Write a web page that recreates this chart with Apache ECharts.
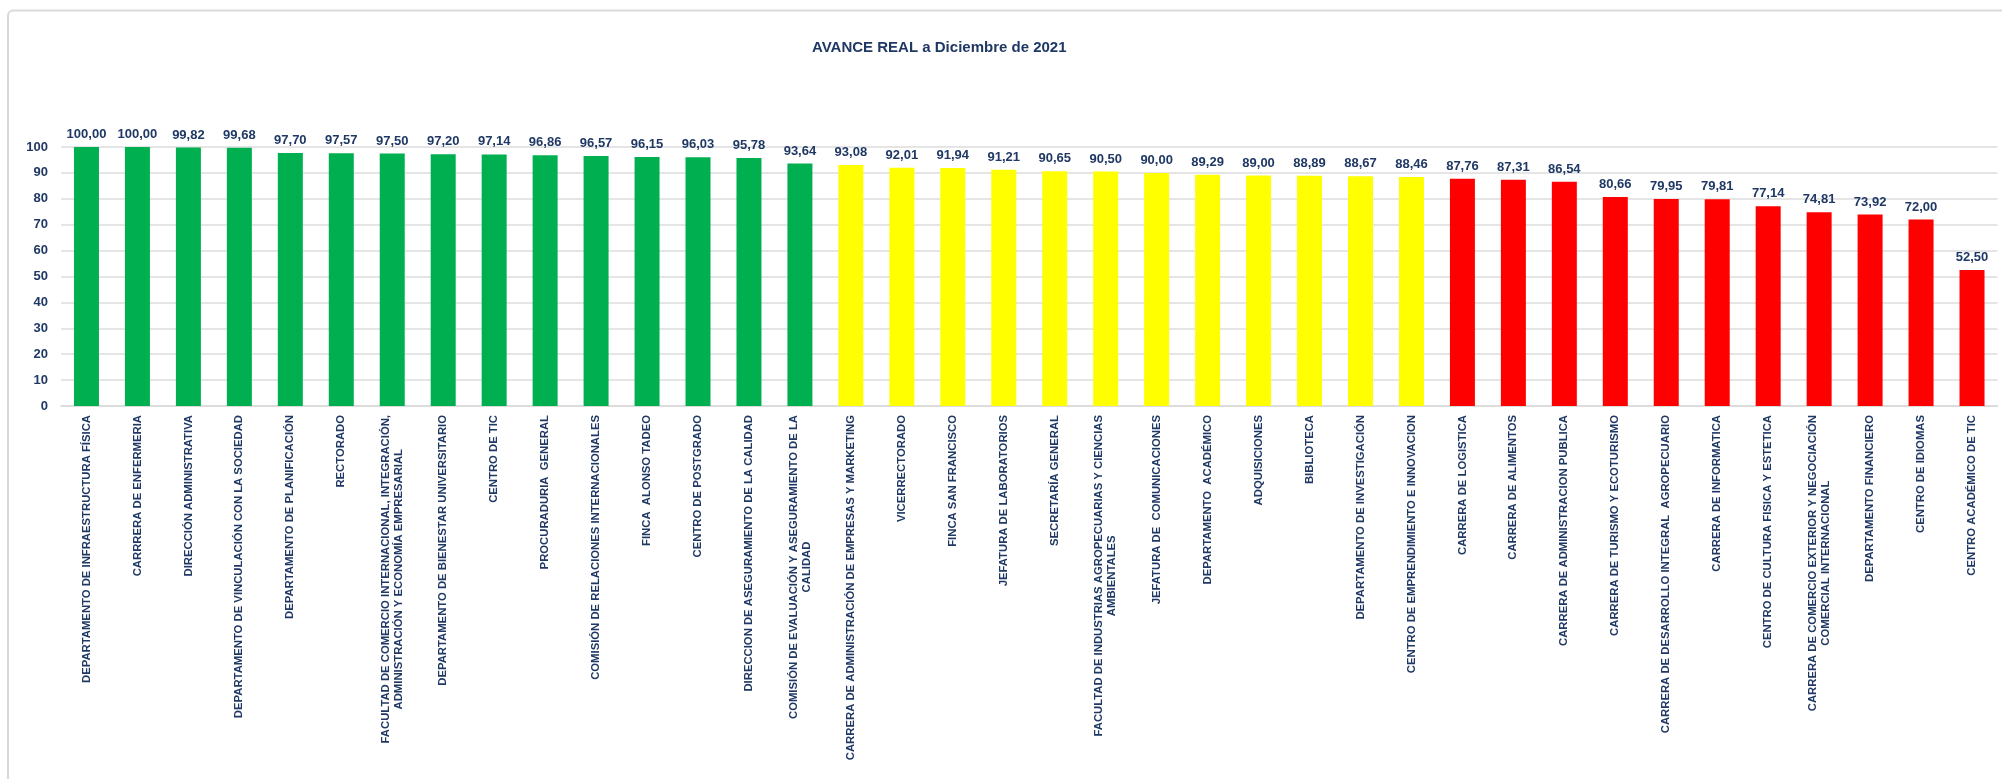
<!DOCTYPE html>
<html>
<head>
<meta charset="utf-8">
<title>AVANCE REAL a Diciembre de 2021</title>
<script src="https://cdn.jsdelivr.net/npm/echarts@6/dist/echarts.min.js"></script>
<style>
  html, body { margin: 0; padding: 0; background: #ffffff; }
  #chart { width: 2002px; height: 779px; }
</style>
</head>
<body>
<div id="chart"></div>
<script>
// Unidades evaluadas (orden descendente de avance)
const unidades = [
  'DEPARTAMENTO DE INFRAESTRUCTURA FÍSICA',
  'CARRRERA DE ENFERMERIA',
  'DIRECCIÓN ADMINISTRATIVA',
  'DEPARTAMENTO DE VINCULACIÓN CON LA SOCIEDAD',
  'DEPARTAMENTO DE PLANIFICACIÓN',
  'RECTORADO',
  'FACULTAD DE COMERCIO INTERNACIONAL, INTEGRACIÓN,\nADMINISTRACIÓN Y ECONOMÍA EMPRESARIAL',
  'DEPARTAMENTO DE BIENESTAR UNIVERSITARIO',
  'CENTRO DE TIC',
  'PROCURADURIA  GENERAL',
  'COMISIÓN DE RELACIONES INTERNACIONALES',
  'FINCA  ALONSO TADEO',
  'CENTRO DE POSTGRADO',
  'DIRECCION DE ASEGURAMIENTO DE LA CALIDAD',
  'COMISIÓN DE EVALUACIÓN Y ASEGURAMIENTO DE LA\nCALIDAD',
  'CARRERA DE ADMINISTRACIÓN DE EMPRESAS Y MARKETING',
  'VICERRECTORADO',
  'FINCA SAN FRANCISCO',
  'JEFATURA DE LABORATORIOS',
  'SECRETARÍA GENERAL',
  'FACULTAD DE INDUSTRIAS AGROPECUARIAS Y CIENCIAS\nAMBIENTALES',
  'JEFATURA DE  COMUNICACIONES',
  'DEPARTAMENTO  ACADÉMICO',
  'ADQUISICIONES',
  'BIBLIOTECA',
  'DEPARTAMENTO DE INVESTIGACIÓN',
  'CENTRO DE EMPRENDIMIENTO E INNOVACION',
  'CARRERA DE LOGISTICA',
  'CARRERA DE ALIMENTOS',
  'CARRERA DE ADMINISTRACION PUBLICA',
  'CARRERA DE TURISMO Y ECOTURISMO',
  'CARRERA DE DESARROLLO INTEGRAL  AGROPECUARIO',
  'CARRERA DE INFORMATICA',
  'CENTRO DE CULTURA FISICA Y ESTETICA',
  'CARRERA DE COMERCIO EXTERIOR Y NEGOCIACIÓN\nCOMERCIAL INTERNACIONAL',
  'DEPARTAMENTO FINANCIERO',
  'CENTRO DE IDIOMAS',
  'CENTRO ACADÉMICO DE TIC'
];

// Porcentaje de avance real
const avance = [
  100.00, 100.00, 99.82, 99.68, 97.70, 97.57, 97.50, 97.20, 97.14, 96.86,
  96.57, 96.15, 96.03, 95.78, 93.64, 93.08, 92.01, 91.94, 91.21, 90.65,
  90.50, 90.00, 89.29, 89.00, 88.89, 88.67, 88.46, 87.76, 87.31, 86.54,
  80.66, 79.95, 79.81, 77.14, 74.81, 73.92, 72.00, 52.50
];

// Semáforo de cada unidad: V = verde, A = amarillo, R = rojo
const semaforo = [
  'V','V','V','V','V','V','V','V','V','V','V','V','V','V','V',
  'A','A','A','A','A','A','A','A','A','A','A','A',
  'R','R','R','R','R','R','R','R','R','R','R'
];

const colores = { V: '#00B050', A: '#FFFF00', R: '#FF0000' };

// Marcas del eje vertical
const ejeY = { min: 0, max: 100, intervalo: 10 };

const azul = '#1F3864';
const fuente = 'Liberation Sans, Arial, sans-serif';

const chart = echarts.init(document.getElementById('chart'), null, { renderer: 'canvas' });

chart.setOption({
  backgroundColor: '#ffffff',
  animation: false,
  title: {
    text: 'AVANCE REAL a Diciembre de 2021',
    left: 807,
    top: 35,
    textStyle: { color: azul, fontSize: 15, fontWeight: 'bold', fontFamily: fuente }
  },
  graphic: [{
    type: 'rect',
    silent: true,
    z: -10,
    shape: { x: 8, y: 10.5, width: 2100, height: 900, r: 5 },
    style: { fill: 'none', stroke: '#d9d9d9', lineWidth: 2 }
  }],
  grid: { left: 61, right: 4.5, top: 147, bottom: 373, containLabel: false },
  xAxis: {
    type: 'category',
    data: unidades,
    axisTick: { show: false },
    axisLine: { show: true, lineStyle: { color: '#d9d9d9', width: 1.5 } },
    axisLabel: {
      interval: 0,
      rotate: 90,
      margin: 9,
      color: azul,
      fontSize: 11.3,
      fontWeight: 'bold',
      fontFamily: fuente,
      formatter: (v) => v.split('\n').map(l => '{c|' + l + '}').join('\n'),
      rich: {
        c: {
          align: 'center',
          color: azul,
          fontSize: 11.3,
          fontWeight: 'bold',
          fontFamily: fuente,
          lineHeight: 13
        }
      }
    }
  },
  yAxis: {
    type: 'value',
    min: ejeY.min,
    max: ejeY.max,
    interval: ejeY.intervalo,
    axisLine: { show: false },
    axisTick: { show: false },
    splitLine: { lineStyle: { color: '#dcdcdc', width: 1.5 } },
    axisLabel: {
      margin: 13,
      color: azul,
      fontSize: 13,
      fontWeight: 'bold',
      fontFamily: fuente
    }
  },
  series: [{
    type: 'bar',
    barWidth: 25,
    data: avance.map((v, i) => ({ value: v, itemStyle: { color: colores[semaforo[i]] } })),
    label: {
      show: true,
      position: 'top',
      distance: 6,
      color: azul,
      fontSize: 13,
      fontWeight: 'bold',
      fontFamily: fuente,
      formatter: (p) => p.value.toFixed(2).replace('.', ',')
    }
  }]
});
</script>
</body>
</html>
